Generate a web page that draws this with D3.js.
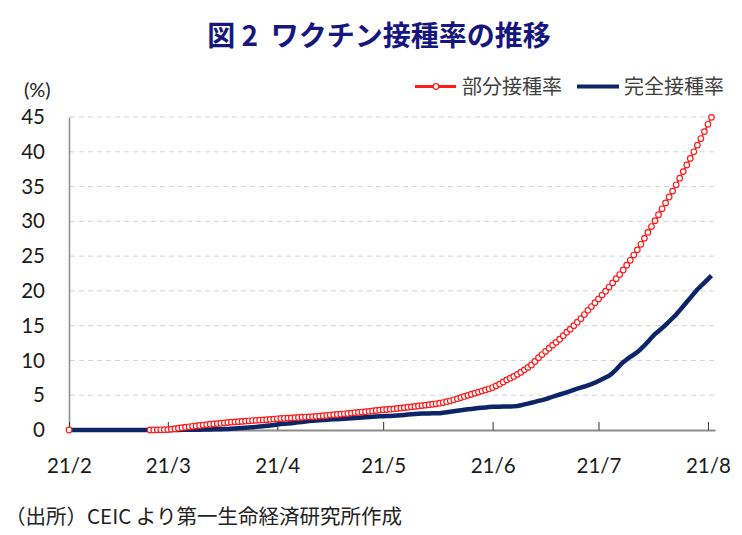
<!DOCTYPE html>
<html>
    <head>
        <meta charset="utf-8">
        <title>ワクチン接種率の推移</title>
        <style>
        html, body{
            margin: 0;
            padding: 0;
            background: #fff;
        }
        svg{
            display: block;
        }
        .num{ font-family: Lato, "Open Sans", sans-serif; }
        .jp{ font-family: "Noto Sans CJK JP", sans-serif; }
        </style>
    </head>
    <body>
        <svg width="742" height="535"></svg>

        <script src="https://cdnjs.cloudflare.com/ajax/libs/d3/7.8.5/d3.min.js"></script>
        <script>
            // daily values from 2021/2/1 (null = no data)
            const partialFeb = [0, null, null, null, null, null, null, null, null, null, null, null,
                null, null, null, null, null, null, null, null, null, null, null, 0.00, 0.01, 0.02, 0.03, 0.04];
            const partialMar = [0.06, 0.12, 0.19, 0.26, 0.33, 0.40, 0.46, 0.53, 0.59, 0.65, 0.71, 0.77, 0.83, 0.87, 0.92, 0.97,
                1.03, 1.08, 1.13, 1.17, 1.20, 1.24, 1.28, 1.32, 1.36, 1.39, 1.42, 1.45, 1.49, 1.53, 1.57];
            const partialApr = [1.61, 1.65, 1.68, 1.71, 1.74, 1.77, 1.80, 1.83, 1.86, 1.89, 1.92, 1.96, 2.00, 2.05, 2.10,
                2.15, 2.19, 2.23, 2.28, 2.33, 2.38, 2.43, 2.48, 2.53, 2.58, 2.63, 2.68, 2.74, 2.80, 2.86];
            const partialMay = [2.91, 2.95, 2.99, 3.04, 3.09, 3.15, 3.21, 3.27, 3.33, 3.39, 3.45, 3.51, 3.57, 3.63, 3.70, 3.77,
                3.85, 3.95, 4.07, 4.20, 4.34, 4.50, 4.66, 4.82, 4.98, 5.14, 5.30, 5.45, 5.60, 5.76, 5.92];
            const partialJun = [6.10, 6.35, 6.60, 6.90, 7.20, 7.45, 7.70, 8.00, 8.30, 8.65, 9.00, 9.35, 9.85, 10.40, 10.85,
                11.30, 11.75, 12.20, 12.60, 13.05, 13.55, 14.05, 14.50, 15.00, 15.50, 16.00, 16.60, 17.20, 17.75, 18.30];
            const partialJul = [18.85, 19.40, 19.95, 20.55, 21.15, 21.75, 22.35, 23.00, 23.70, 24.40, 25.15, 25.90, 26.70, 27.55,
                28.40, 29.25, 30.10, 30.95, 31.80, 32.65, 33.50, 34.35, 35.25, 36.20, 37.15, 38.10, 39.05, 40.00, 40.95, 41.90, 42.90];
            const partialAug = [43.95, 44.95];

            const fullFeb = [0, 0, 0, 0, 0, 0, 0, 0, 0, 0, 0, 0, 0, 0, 0, 0, 0, 0, 0, 0, 0, 0, 0, 0, 0, 0, 0, 0];
            const fullMar = [0, 0, 0.01, 0.01, 0.02, 0.02, 0.03, 0.03, 0.04, 0.05, 0.06, 0.07, 0.08, 0.09, 0.10, 0.12,
                0.14, 0.16, 0.19, 0.22, 0.25, 0.28, 0.32, 0.36, 0.40, 0.45, 0.50, 0.55, 0.60, 0.66, 0.72];
            const fullApr = [0.80, 0.86, 0.90, 0.93, 0.98, 1.04, 1.10, 1.16, 1.22, 1.28, 1.32, 1.37, 1.41, 1.45, 1.48,
                1.51, 1.53, 1.55, 1.58, 1.62, 1.66, 1.70, 1.74, 1.77, 1.79, 1.82, 1.86, 1.90, 1.93, 1.96];
            const fullMay = [1.99, 2.01, 2.03, 2.05, 2.08, 2.12, 2.17, 2.22, 2.26, 2.30, 2.33, 2.36, 2.38, 2.39, 2.40, 2.41,
                2.42, 2.48, 2.55, 2.62, 2.69, 2.76, 2.83, 2.90, 2.97, 3.03, 3.09, 3.15, 3.20, 3.25, 3.30];
            const fullJun = [3.33, 3.35, 3.36, 3.37, 3.38, 3.39, 3.40, 3.45, 3.55, 3.68, 3.80, 3.92, 4.05, 4.18, 4.30,
                4.45, 4.60, 4.78, 4.95, 5.10, 5.25, 5.42, 5.60, 5.78, 5.95, 6.10, 6.25, 6.42, 6.60, 6.80];
            const fullJul = [7.05, 7.30, 7.55, 7.80, 8.20, 8.70, 9.25, 9.75, 10.15, 10.50, 10.85, 11.20, 11.65, 12.15, 12.70,
                13.25, 13.80, 14.20, 14.65, 15.10, 15.60, 16.10, 16.60, 17.20, 17.80, 18.40, 19.00, 19.60, 20.20, 20.70, 21.20];
            const fullAug = [21.70, 22.20];

            const monthTicks = ["2021-02-01", "2021-03-01", "2021-04-01", "2021-05-01", "2021-06-01", "2021-07-01", "2021-08-01"];
            const monthLabels = ["21/2", "21/3", "21/4", "21/5", "21/6", "21/7", "21/8"];
            const yTicks = [0, 5, 10, 15, 20, 25, 30, 35, 40, 45];
            const seriesNames = ["部分接種率", "完全接種率"];

            const partial = [].concat(partialFeb, partialMar, partialApr, partialMay, partialJun, partialJul, partialAug);
            const full = [].concat(fullFeb, fullMar, fullApr, fullMay, fullJun, fullJul, fullAug);
            const parse = d3.timeParse("%Y-%m-%d");
            const start = parse("2021-02-01");
            const day = i => d3.timeDay.offset(start, i);

            const redData = partial.map((v, i) => ({date: day(i), v: v}));
            const blueData = full.map((v, i) => ({date: day(i), v: v}));

            const svg = d3.select("svg");
            const red = "#ff1a1a";
            const navy = "#0c2566";

            let xScale = d3.scaleTime()
                .domain([start, parse("2021-08-03")])
                .range([69, 715]);
            let yScale = d3.scaleLinear()
                .domain([0, 45])
                .range([430, 117]);

            // title
            svg.append("text")
                .attr("class", "jp")
                .attr("x", 379).attr("y", 34)
                .attr("text-anchor", "middle")
                .attr("dominant-baseline", "central")
                .attr("font-size", 28).attr("font-weight", "bold")
                .attr("fill", "#16167f")
                .attr("xml:space", "preserve")
                .text("図 2  ワクチン接種率の推移");

            svg.append("text")
                .attr("class", "num")
                .attr("x", 24).attr("y", 89)
                .attr("dominant-baseline", "central")
                .attr("font-size", 20).attr("fill", "#222")
                .text("(%)");

            // grid
            svg.append("g")
                .selectAll("line")
                .data(yTicks.filter(d => d > 0))
                .enter().append("line")
                .attr("x1", 70).attr("x2", 715)
                .attr("y1", d => yScale(d)).attr("y2", d => yScale(d))
                .attr("stroke", "#d4d4d4")
                .attr("stroke-width", 1)
                .attr("stroke-dasharray", "5,4");

            let yAxis = d3.axisLeft(yScale)
                .tickValues(yTicks)
                .tickSize(0)
                .tickPadding(24);
            let gy = svg.append("g")
                .attr("transform", "translate(69,0)")
                .call(yAxis);
            gy.select(".domain").attr("stroke", "#8c8c8c").attr("stroke-width", 1.5);
            gy.selectAll("text")
                .attr("class", "num")
                .attr("font-size", 20.5)
                .attr("fill", "#1a1a1a");

            let xAxis = d3.axisBottom(xScale)
                .tickValues(monthTicks.map(parse))
                .tickFormat((d, i) => monthLabels[i])
                .tickSizeInner(-8)
                .tickSizeOuter(0)
                .tickPadding(28);
            let gx = svg.append("g")
                .attr("transform", "translate(0,430)")
                .call(xAxis);
            gx.select(".domain").attr("stroke", "#8c8c8c").attr("stroke-width", 2);
            gx.selectAll(".tick line").attr("stroke", "#333").attr("stroke-width", 1);
            gx.selectAll("text")
                .attr("class", "num")
                .attr("font-size", 20.5)
                .attr("fill", "#1a1a1a");

            // full vaccination
            svg.append("path")
                .datum(blueData)
                .attr("fill", "none")
                .attr("stroke", navy)
                .attr("stroke-width", 4.5)
                .attr("stroke-linejoin", "round")
                .attr("d", d3.line().x(d => xScale(d.date)).y(d => yScale(d.v)));

            // partial vaccination
            svg.append("path")
                .datum(redData)
                .attr("fill", "none")
                .attr("stroke", red)
                .attr("stroke-width", 1.5)
                .attr("d", d3.line().defined(d => d.v !== null).x(d => xScale(d.date)).y(d => yScale(d.v)));

            svg.append("g")
                .selectAll("circle")
                .data(redData.filter(d => d.v !== null))
                .enter().append("circle")
                .attr("cx", d => xScale(d.date))
                .attr("cy", d => yScale(d.v))
                .attr("r", 2.8)
                .attr("fill", "#fff")
                .attr("stroke", red)
                .attr("stroke-width", 1.2);

            // legend
            let legend = svg.append("g");
            legend.append("line")
                .attr("x1", 415).attr("x2", 456).attr("y1", 86.5).attr("y2", 86.5)
                .attr("stroke", red).attr("stroke-width", 3);
            legend.append("circle")
                .attr("cx", 436).attr("cy", 86.5).attr("r", 2.8)
                .attr("fill", "#fff").attr("stroke", red).attr("stroke-width", 1.2);
            legend.append("line")
                .attr("x1", 577).attr("x2", 619).attr("y1", 86.5).attr("y2", 86.5)
                .attr("stroke", navy).attr("stroke-width", 4);
            legend.selectAll("text")
                .data(seriesNames)
                .enter().append("text")
                .attr("class", "jp")
                .attr("x", (d, i) => i === 0 ? 462 : 624)
                .attr("y", 85)
                .attr("dominant-baseline", "central")
                .attr("font-size", 20)
                .attr("fill", "#404040")
                .text(d => d);

            // source
            svg.append("text")
                .attr("class", "jp")
                .attr("x", 5).attr("y", 515)
                .attr("dominant-baseline", "central")
                .attr("font-size", 20.5)
                .attr("fill", "#222")
                .text("（出所）CEIC より第一生命経済研究所作成");
        </script>
    </body>
</html>
